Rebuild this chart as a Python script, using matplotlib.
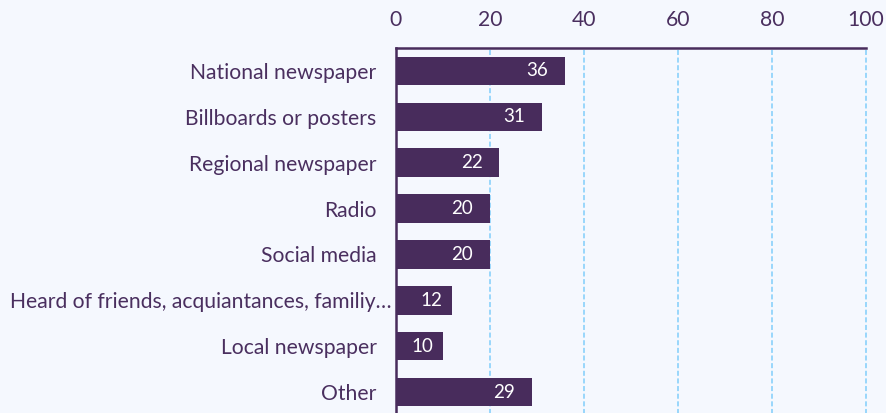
import matplotlib
matplotlib.use("Agg")
import matplotlib.pyplot as plt
from matplotlib.transforms import ScaledTranslation

categories = ["National newspaper", "Billboards or posters", "Regional newspaper", "Radio",
              "Social media", "Heard of friends, acquiantances, familiy\u2026", "Local newspaper", "Other"]
values = [36, 31, 22, 20, 20, 12, 10, 29]
xticks = [0, 20, 40, 60, 80, 100]

BG = "#f5f8fe"
BAR = "#482c5c"
TXT = "#4a2f5f"
GRID = "#80cdfb"

plt.rcParams["font.family"] = ["Lato", "DejaVu Sans"]

fig = plt.figure(figsize=(8.86, 4.13), dpi=100, facecolor=BG)
W, H = 886, 413
left, right, top, bottom = 396, 866, 48, 415
ax = fig.add_axes([left / W, 1 - bottom / H, (right - left) / W, (bottom - top) / H])
ax.set_facecolor(BG)

y = list(range(len(categories)))
ax.barh(y, values, height=0.62, color=BAR, zorder=3)
ax.set_xlim(0, 100)
ax.set_ylim(len(categories) - 0.5, -0.5)

ax.set_yticks(y)
ax.set_yticklabels(categories, fontsize=15.2, color=TXT)
ax.set_xticks(xticks)
ax.set_xticklabels([str(t) for t in xticks], fontsize=15.2, color=TXT)
ax.xaxis.tick_top()
ax.tick_params(axis="x", length=0, pad=13)
ax.tick_params(axis="y", length=0, pad=14)

# the truncated label sits closer to the axis
for lab in ax.get_yticklabels():
    if lab.get_text().endswith("\u2026"):
        lab.set_transform(lab.get_transform() + ScaledTranslation(15 / 100, 0, fig.dpi_scale_trans))

for x in xticks[1:]:
    ax.axvline(x, color=GRID, lw=1.1, ls=(0, (3.3, 1.7)), zorder=1, clip_on=False)

for s in ["right", "bottom"]:
    ax.spines[s].set_visible(False)
for s in ["top", "left"]:
    ax.spines[s].set_color(BAR)
    ax.spines[s].set_linewidth(1.8)
    ax.spines[s].set_zorder(4)

px = 72 / 100
for i, v in enumerate(values):
    bar_px = v * (right - left) / 100
    off = -17 if bar_px > 60 else -10
    ax.annotate(str(v), (v, i), xytext=(off * px, 0), textcoords="offset points",
                ha="right", va="center", color="white", fontsize=13.5, zorder=5)

fig.savefig("out.png", dpi=100, facecolor=BG)
